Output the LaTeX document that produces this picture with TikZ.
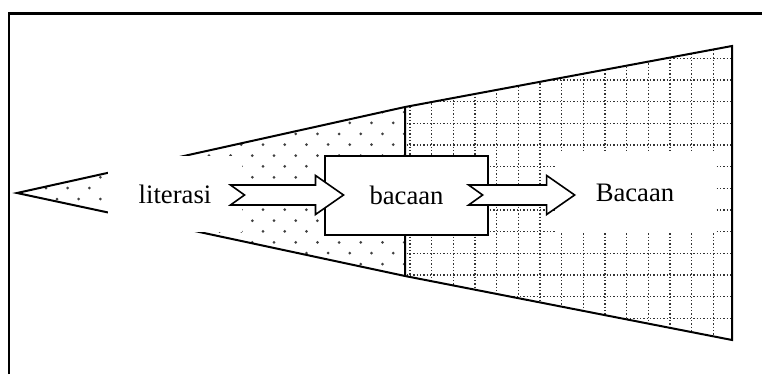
\documentclass[tikz,border=0pt]{standalone}
\usepackage{fontspec}
\setmainfont{Liberation Serif}
\usetikzlibrary{calc}

\tikzset{every picture/.style={line width=0.75pt}}
\tikzset{
	labeltext/.style={inner sep=0pt, font=\fontsize{20}{24}\selectfont},
	whitebox/.style={labeltext, fill=white},
	readbox/.style={labeltext, draw, fill=white, line width=1.2pt},
	coneline/.style={line width=1.5pt},
	gridline/.style={line width=1.15pt, dash pattern=on 0.9pt off 1.6pt, color=black!80},
	spot/.style={fill=black!75},
	notched/.style={draw, fill=white, line width=1.2pt, line join=miter},
	pics/notched arrow/.style={code={
		\path[notched] (0,-10) -- (#1-28,-10) -- (#1-28,-19.5) -- (#1,0) -- (#1-28,19.5) -- (#1-28,10) -- (0,10) -- (14,0) -- cycle;
	}}
}

\begin{document}
\begin{tikzpicture}[x=0.75pt,y=0.75pt,yscale=-1]
	\useasboundingbox (0,0) rectangle (762,374);
	
	%Frame
	\draw [line width=1.6pt] (9,374) -- (9,13.5) -- (762,13.5) ;
	
	%Dots in the cone
	\begin{scope}
		\clip (17,193) -- (405,107) -- (405,276) -- cycle;
		\foreach \i in {-1,...,17} {
			\foreach \j in {-4,...,4} {
				\fill [spot] (46+21.7*\i,188+21.7*\j) circle (1.5);
				\fill [spot] (57+21.7*\i,199+21.7*\j) circle (1.5);
			}
		}
	\end{scope}
	
	%Grid in the wide part
	\begin{scope}
		\clip (405,107) -- (732,46) -- (732,340) -- (405,276) -- cycle;
		\foreach \x in {0,...,15}
			\draw [gridline] (410+21.67*\x,30) -- ++(0,320) ;
		\foreach \y in {0,...,14}
			\draw [gridline] (400,36.67+21.67*\y) -- ++(340,0) ;
	\end{scope}
	
	%Cone outline
	\draw [coneline] (405,107) -- (17,193) -- (405,276) ;
	\draw [coneline] (405,107) -- (732,46) -- (732,340) -- (405,276) -- cycle ;
	
	% Text Node
	\node (lit) [whitebox, minimum width=100.5pt, minimum height=57pt] at (175,194) {literasi};
	% Text Node
	\node (Bac) [whitebox, minimum width=120pt, minimum height=60pt] at (635,193) {Bacaan};
	% Box
	\node (bacaanbox) [readbox, minimum width=122pt, minimum height=59pt] at (406.5,195.5) {bacaan};
	
	%Block arrows
	\pic at ($(lit.east)+(-12,1)$) {notched arrow=113};
	\pic at ($(bacaanbox.east)+(-20,-0.5)$) {notched arrow=106};
	
\end{tikzpicture}
\end{document}
